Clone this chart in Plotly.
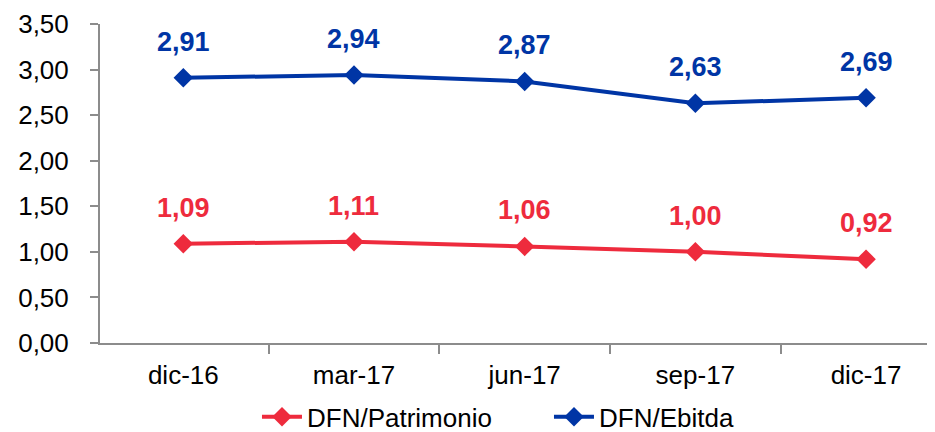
import plotly.graph_objects as go

periods = ["dic-16", "mar-17", "jun-17", "sep-17", "dic-17"]
dfn_patrimonio = [1.09, 1.11, 1.06, 1.00, 0.92]
dfn_ebitda = [2.91, 2.94, 2.87, 2.63, 2.69]

red = "#EE2B3D"
blue = "#0035A5"

fig = go.Figure()

fig.add_trace(go.Scatter(
    x=periods, y=dfn_patrimonio, name="DFN/Patrimonio",
    mode="lines+markers",
    line=dict(color=red, width=4),
    marker=dict(symbol="diamond", size=15, color=red)
))

fig.add_trace(go.Scatter(
    x=periods, y=dfn_ebitda, name="DFN/Ebitda",
    mode="lines+markers",
    line=dict(color=blue, width=4),
    marker=dict(symbol="diamond", size=15, color=blue)
))

# data labels above each point
for vals, color in [(dfn_patrimonio, red), (dfn_ebitda, blue)]:
    for p, v in zip(periods, vals):
        fig.add_annotation(
            x=p, y=v, text=f"{v:.2f}".replace(".", ","),
            showarrow=False, yshift=36,
            font=dict(family="Liberation Sans, Arial", size=27, color=color, weight="bold")
        )

# page body has an 8px margin, so the figure is shrunk by that amount
fig.update_layout(
    width=927, height=424,
    margin=dict(l=92, r=0, t=16, b=89),
    plot_bgcolor="white", paper_bgcolor="white",
    separators=",.",
    font=dict(family="Liberation Sans, Arial", size=26, color="black"),
    showlegend=True,
    legend=dict(
        orientation="h", x=0.188, xanchor="left",
        yref="container", y=0.036, yanchor="middle",
        font=dict(size=26), itemwidth=40, entrywidth=237
    ),
)

fig.update_xaxes(
    range=[-0.488, 4.404],
    showline=True, linecolor="#8C8C8C", linewidth=2,
    ticks="outside", tickson="boundaries", ticklen=9, tickcolor="#8C8C8C", tickwidth=2,
    ticklabelstandoff=8,
    showgrid=False, tickfont=dict(size=26),
)

fig.update_yaxes(
    range=[0, 3.5], dtick=0.5, tickformat=".2f",
    showline=True, linecolor="#8C8C8C", linewidth=2,
    ticks="outside", ticklen=8, tickcolor="#8C8C8C", tickwidth=2,
    ticklabelstandoff=16,
    showgrid=False, zeroline=False, tickfont=dict(size=26),
)

fig.write_html("out.html")
